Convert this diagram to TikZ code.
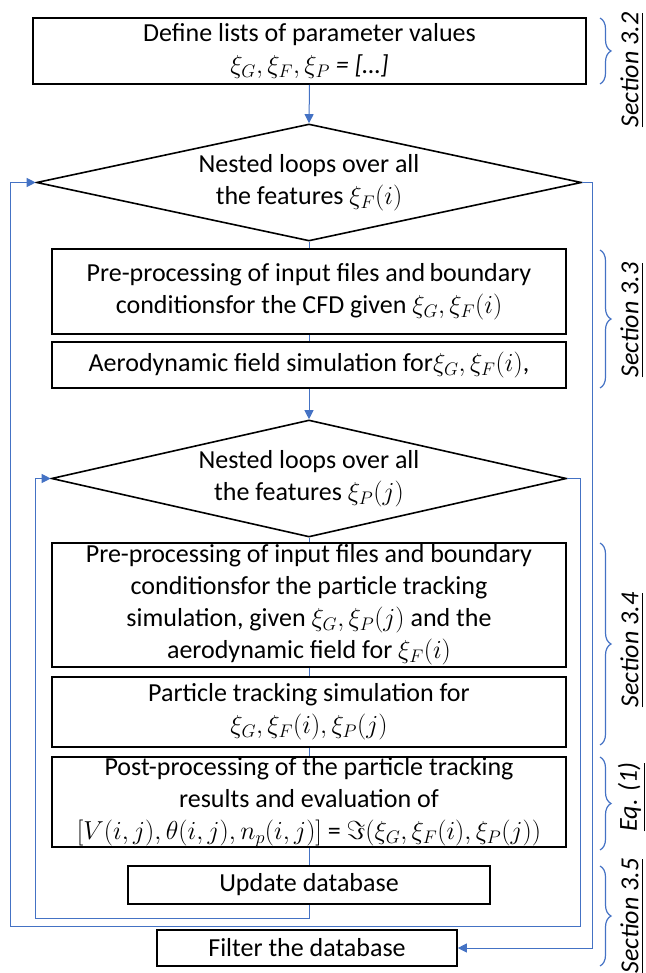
\RequirePackage{fix-cm}
\documentclass[tikz,border=0pt]{standalone}
\usepackage{amsmath}
\usepackage{fontspec}
\setmainfont{Carlito}
\usepackage{tikz}
\usetikzlibrary{
  positioning,
  shapes.geometric,
  arrows.meta,
  decorations.pathreplacing
}
\definecolor{flowblue}{HTML}{4472C4}

\begin{document}
\begin{tikzpicture}[
    x=1pt, y=-1pt,
    font=\fontsize{26}{32}\selectfont,
    >={Triangle[length=9pt,width=9pt]},
    % Box styles
    box/.style={
        rectangle, draw=black, line width=1.6pt,
        align=center, inner sep=0pt, minimum width=514pt
    },
    loopbox/.style={
        diamond, draw=black, line width=1.6pt, aspect=4.6,
        align=center, inner sep=0pt, minimum height=117pt
    },
    % Brace and section label styles
    brc/.style={
        color=flowblue, line width=1.2pt,
        decorate, decoration={brace, amplitude=11pt}
    },
    sec/.style={rotate=90, inner sep=0pt},
    % Arrow styles
    arr/.style={->, line width=1pt, color=flowblue},
    line/.style={line width=1pt, color=flowblue}
]
\useasboundingbox (0,0) rectangle (645,973);

% ==========================================
% NODES & PLACEMENT
% ==========================================

% --- Parameter lists ---
\node[box, minimum width=553pt, minimum height=66pt] (def) at (309.5, 51) {Define lists of parameter values\\$\xi_G, \xi_F, \xi_P$ \textit{= […]}};

% --- Outer loop (features F) ---
\node[loopbox, minimum width=545pt] (loopF) at (309, 182.5) {Nested loops over all\\the features $\xi_F(i)$};
\node[box, minimum height=85pt] (cfd) at (309, 291.5) {Pre-processing of input files and\,boundary\\conditionsfor the CFD given $\xi_G, \xi_F(i)$};
\node[box, minimum height=46pt] (aero) at (309, 365) {Aerodynamic field simulation for$\xi_G, \xi_F(i)$,};

% --- Inner loop (features P) ---
\node[loopbox, minimum width=515pt] (loopP) at (309, 478.5) {Nested loops over all\\the features $\xi_P(j)$};
\node[box, minimum height=124pt] (ptprep) at (309, 605) {Pre-processing of input files and boundary\\conditionsfor the particle tracking\\simulation, given $\xi_G, \xi_P(j)$ and the\\aerodynamic field for $\xi_F(i)$};
\node[box, minimum height=70pt] (ptsim) at (309, 712) {Particle tracking simulation for\\$\xi_G, \xi_F(i), \xi_P(j)$};
\node[box, minimum height=90pt] (post) at (309, 802) {Post-processing of the particle tracking\\results and evaluation of\\$[V(i,j),\theta(i,j),n_p(i,j)]$ = $\Im(\xi_G,\xi_F(i),\xi_P(j))$};
\node[box, minimum width=362pt, minimum height=38pt] (update) at (309, 885) {Update database};

% --- Final step ---
\node[box, minimum width=300pt, minimum height=36pt] (filter) at (307, 948) {Filter the database};

% ==========================================
% SECTION BRACES
% ==========================================
\draw[brc] (600,18) -- (600,84);
\draw[brc] (600,250) -- (600,388);
\draw[brc] (600,543) -- (600,745);
\draw[brc] (600,757) -- (600,850);
\draw[brc] (600,866) -- (600,966);

\node[sec] (s32) at (632, 70) {\underline{\textit{Section 3.2}}};
\node[sec] (s33) at (632, 320) {\underline{\textit{Section 3.3}}};
\node[sec] (s34) at (632, 650) {\underline{\textit{Section 3.4}}};
\node[sec] (eq1) at (632, 797) {\underline{\textit{Eq. (1)}}};
\node[sec] (s35) at (632, 916) {\underline{\textit{Section 3.5}}};

% ==========================================
% ROUTING & ARROWS
% ==========================================

% 1. Main chain
\draw[arr] (def.south) -- (loopF.north);
\draw[line] (loopF.south) -- (cfd.north);
\draw[line] (cfd.south) -- (aero.north);
\draw[arr] (aero.south) -- (loopP.north);
\draw[line] (loopP.south) -- (ptprep.north);
\draw[line] (ptprep.south) -- (ptsim.north);
\draw[line] (ptsim.south) -- (post.north);
\draw[line] (post.south) -- (update.north);

% 2. Inner loop return
\coordinate (innerturn) at (35, 918);
\draw[arr] (update.south) |- (innerturn) |- (loopP.west);

% 3. Outer loop return
\coordinate (outerturn) at (580, 926);
\coordinate (outerleft) at (10, 926);
\draw[arr] (loopP.east) -| (outerturn) -- (outerleft) |- (loopF.west);

% 4. Exit to filtering
\coordinate (exitturn) at (592, 948);
\draw[arr] (loopF.east) -| (exitturn) -- (filter.east);

\end{tikzpicture}
\end{document}
